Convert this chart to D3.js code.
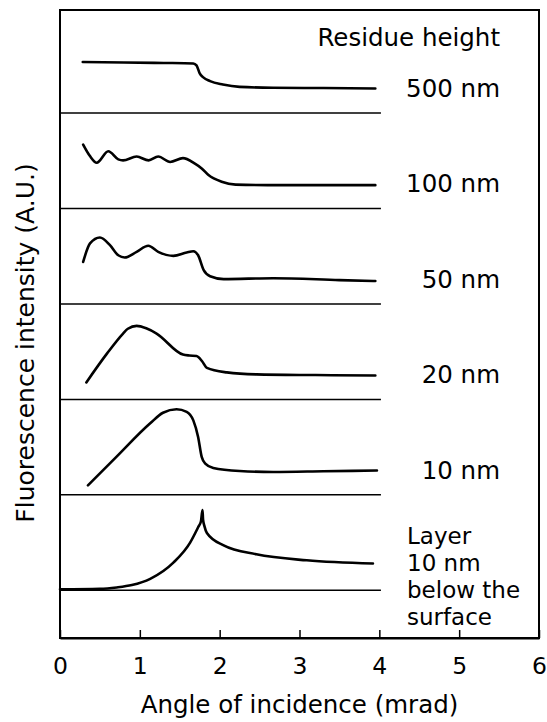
<!DOCTYPE html>
<html>
<head>
<meta charset="utf-8">
<script src="https://cdn.jsdelivr.net/npm/d3@7"></script>
<style>
    body { margin: 0; background: #fff; }
    svg { display: block; font-family: "DejaVu Sans", sans-serif; }
    .curve { fill: none; stroke: #000; stroke-width: 2.6; stroke-linejoin: round; stroke-linecap: round; }
    .sep { stroke: #000; stroke-width: 1.5; }
    .frame { fill: none; stroke: #000; stroke-width: 2; }
</style>
</head>
<body>
<div id="chart"></div>
<script>
// angle of incidence (mrad) and fluorescence intensity (A.U., 0-1 inside each panel)
const angleLayer = [0, 0.5, 0.71, 0.9, 1.13, 1.42, 1.63, 1.73, 1.765, 1.785, 1.792, 1.81, 1.84, 2.05, 2.46, 3.09, 3.92];
const valueLayer = [0.01, 0.015, 0.03, 0.055, 0.12, 0.29, 0.5, 0.66, 0.72, 0.84, 0.74, 0.67, 0.60, 0.47, 0.377, 0.314, 0.28];

const angle10 = [0.35, 0.7, 1.13, 1.29, 1.46, 1.587, 1.67, 1.73, 1.775, 1.82, 1.92, 2.25, 2.67, 3.3, 3.97];
const value10 = [0.10, 0.393, 0.75, 0.86, 0.897, 0.87, 0.78, 0.607, 0.397, 0.328, 0.282, 0.25, 0.24, 0.247, 0.255];

const angle20 = [0.33, 0.59, 0.79, 0.85, 0.96, 1.08, 1.21, 1.54, 1.62, 1.71, 1.78, 1.84, 2.09, 2.46, 3.2, 3.95];
const value20 = [0.178, 0.482, 0.69, 0.74, 0.77, 0.745, 0.69, 0.47, 0.46, 0.455, 0.40, 0.33, 0.283, 0.262, 0.255, 0.25];

const angle50 = [0.29, 0.376, 0.5, 0.626, 0.73, 0.81, 0.96, 1.106, 1.23, 1.42, 1.587, 1.67, 1.73, 1.80, 1.88, 2.05, 2.67, 3.5, 3.95];
const value50 = [0.44, 0.634, 0.697, 0.616, 0.51, 0.487, 0.546, 0.61, 0.546, 0.504, 0.54, 0.553, 0.51, 0.354, 0.29, 0.26, 0.27, 0.25, 0.24];

const angle100 = [0.29, 0.375, 0.46, 0.605, 0.73, 0.79, 0.96, 1.11, 1.23, 1.38, 1.54, 1.69, 1.775, 1.86, 2.025, 2.2, 2.6, 3.2, 3.95];
const value100 = [0.67, 0.55, 0.48, 0.6, 0.515, 0.504, 0.545, 0.504, 0.545, 0.488, 0.528, 0.47, 0.42, 0.35, 0.28, 0.25, 0.245, 0.245, 0.245];

const angle500 = [0.285, 0.8, 1.3, 1.67, 1.71, 1.75, 1.795, 1.88, 2.04, 2.25, 2.67, 3.3, 3.95];
const value500 = [0.535, 0.53, 0.525, 0.52, 0.50, 0.416, 0.374, 0.335, 0.30, 0.275, 0.265, 0.262, 0.258];

// panel labels, bottom to top
const panelLabels = ["Layer", "10 nm", "20 nm", "50 nm", "100 nm", "500 nm"];
const layerLines = ["Layer", "10 nm", "below the", "surface"];
const xTicks = [0, 1, 2, 3, 4, 5, 6];

const panels = [
    { angles: angleLayer, values: valueLayer },
    { angles: angle10, values: value10 },
    { angles: angle20, values: value20 },
    { angles: angle50, values: value50 },
    { angles: angle100, values: value100 },
    { angles: angle500, values: value500 }
].map((p, i) => ({
    offset: i,
    label: panelLabels[i],
    points: p.angles.map((a, j) => ({ x: a, y: p.values[j] }))
}));

const width = 547, height = 722;

const svg = d3.select('#chart')
    .append('svg')
    .attr('width', width)
    .attr('height', height);

// x: mrad, y: stacked panels (each panel one unit high)
const x = d3.scaleLinear().domain([0, 6]).range([60, 539]);
const y = d3.scaleLinear().domain([-0.5, 6.08]).range([638, 10]);

// frame
svg.append('rect')
    .attr('class', 'frame')
    .attr('x', x(0))
    .attr('y', y(6.08))
    .attr('width', x(6) - x(0))
    .attr('height', y(-0.5) - y(6.08));

// bottom axis with inward ticks
const axis = svg.append('g')
    .attr('transform', `translate(0,${y(-0.5)})`)
    .call(d3.axisBottom(x)
        .tickValues(xTicks)
        .tickFormat(d3.format('d'))
        .tickSizeInner(-8)
        .tickSizeOuter(0)
        .tickPadding(19));
axis.select('.domain').attr('stroke-width', 2);
axis.selectAll('.tick line').attr('stroke-width', 1.5);
axis.selectAll('.tick text')
    .attr('font-size', 23.5)
    .attr('font-family', '"DejaVu Sans", sans-serif')
    .attr('fill', '#000');

// panel base lines
svg.selectAll('.sep')
    .data(panels)
    .enter()
    .append('line')
    .attr('class', 'sep')
    .attr('x1', x(0))
    .attr('x2', x(4.02))
    .attr('y1', d => y(d.offset))
    .attr('y2', d => y(d.offset));

// curves
const line = d3.line()
    .curve(d3.curveMonotoneX);

svg.selectAll('.curve')
    .data(panels)
    .enter()
    .append('path')
    .attr('class', 'curve')
    .attr('d', d => line(d.points.map(p => [x(p.x), y(d.offset + p.y)])));

// labels on the right
svg.selectAll('.plabel')
    .data(panels.filter(d => d.offset > 0))
    .enter()
    .append('text')
    .attr('class', 'plabel')
    .attr('x', 500)
    .attr('y', d => y(d.offset + 0.17))
    .attr('text-anchor', 'end')
    .attr('font-size', 24.5)
    .text(d => d.label);

svg.append('text')
    .attr('x', 500)
    .attr('y', y(5.7))
    .attr('text-anchor', 'end')
    .attr('font-size', 24.5)
    .text('Residue height');

svg.append('text')
    .attr('x', 407)
    .attr('y', y(0.49))
    .attr('font-size', 23)
    .selectAll('tspan')
    .data(layerLines)
    .enter()
    .append('tspan')
    .attr('x', 407)
    .attr('dy', (d, i) => i === 0 ? 0 : 27)
    .text(d => d);

// axis titles
svg.append('text')
    .attr('x', (x(0) + x(6)) / 2)
    .attr('y', 713)
    .attr('text-anchor', 'middle')
    .attr('font-size', 24.5)
    .text('Angle of incidence (mrad)');

svg.append('text')
    .attr('transform', 'translate(34,343) rotate(-90)')
    .attr('text-anchor', 'middle')
    .attr('font-size', 25)
    .text('Fluorescence intensity (A.U.)');
</script>
</body>
</html>
